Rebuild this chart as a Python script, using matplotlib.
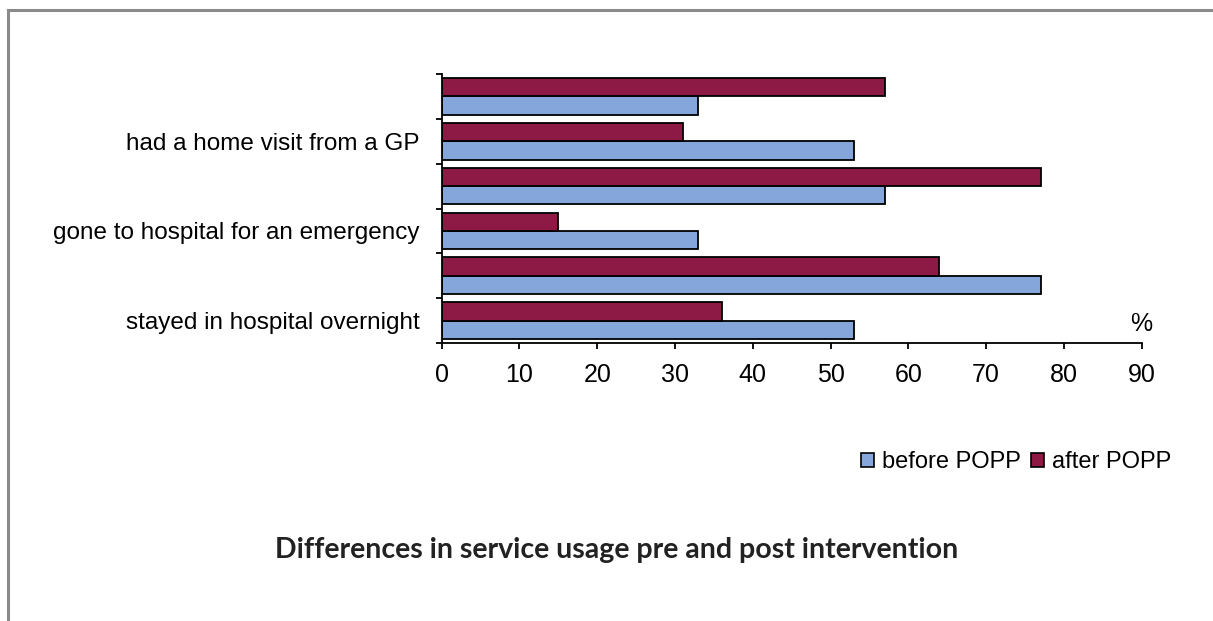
import matplotlib
matplotlib.use("Agg")
import matplotlib.pyplot as plt
import numpy as np
from matplotlib.lines import Line2D
from matplotlib.patches import Patch

# Service usage categories, bottom to top (unlabelled rows are left blank)
categories = [
    "stayed in hospital overnight",
    "",
    "gone to hospital for an emergency",
    "",
    "had a home visit from a GP",
    "",
]
before_popp = [53, 77, 33, 57, 53, 33]
after_popp = [36, 64, 15, 77, 31, 57]
x_ticks = [0, 10, 20, 30, 40, 50, 60, 70, 80, 90]

BLUE = "#84a6da"
MAROON = "#8c1a44"

plt.rcParams["font.family"] = ["Liberation Sans", "DejaVu Sans"]

fig = plt.figure(figsize=(12.13, 6.21), dpi=100)
ax = fig.add_axes([0.3641, 0.4477, 0.5771, 0.4331])

y = np.arange(len(categories))
h = 0.41
ax.barh(y - h / 2, before_popp, height=h, color=BLUE, edgecolor="black",
        linewidth=1.3, label="before POPP")
ax.barh(y + h / 2, after_popp, height=h, color=MAROON, edgecolor="black",
        linewidth=1.3, label="after POPP")

ax.set_xlim(0, 90)
ax.set_ylim(-0.5, len(categories) - 0.5)
ax.set_xticks(x_ticks)
ax.set_xticklabels([str(v) for v in x_ticks], fontsize=18)
ax.set_yticks(y)
ax.set_yticklabels(categories, fontsize=17.5)
ax.set_yticks(np.arange(-0.5, len(categories)), minor=True)

ax.tick_params(axis="y", which="major", length=0, pad=16)
ax.tick_params(axis="y", which="minor", length=4.5, width=1.3, direction="out")
ax.tick_params(axis="x", which="major", length=4.5, width=1.3, direction="out",
               pad=10)

for side in ("top", "right"):
    ax.spines[side].set_visible(False)
for side in ("left", "bottom"):
    ax.spines[side].set_linewidth(1.3)

ax.text(90, 0.025, "%", transform=ax.get_xaxis_transform(), ha="center",
        va="bottom", fontsize=18)

handles = [Patch(facecolor=BLUE, edgecolor="black", linewidth=1.2),
           Patch(facecolor=MAROON, edgecolor="black", linewidth=1.2)]
fig.legend(handles, ["before POPP", "after POPP"], loc="center",
           bbox_to_anchor=(1016 / 1213, 1 - 462 / 621), ncol=2, frameon=False,
           fontsize=17, handlelength=0.55, handleheight=0.55,
           handletextpad=0.35, columnspacing=0.4)

fig.text(0.508, 1 - 550 / 621,
         "Differences in service usage pre and post intervention",
         ha="center", va="center", fontsize=20.5, fontweight="bold",
         family=["Lato", "DejaVu Sans"], color="#222222")

# Grey frame along the top and left edges
fig.add_artist(Line2D([8 / 1213, 1.0], [1 - 10 / 621, 1 - 10 / 621],
                      transform=fig.transFigure, color="#8a8a8a", lw=2.2))
fig.add_artist(Line2D([8 / 1213, 8 / 1213], [0, 1 - 10 / 621],
                      transform=fig.transFigure, color="#8a8a8a", lw=2.2))

fig.savefig("out.png", dpi=100)
